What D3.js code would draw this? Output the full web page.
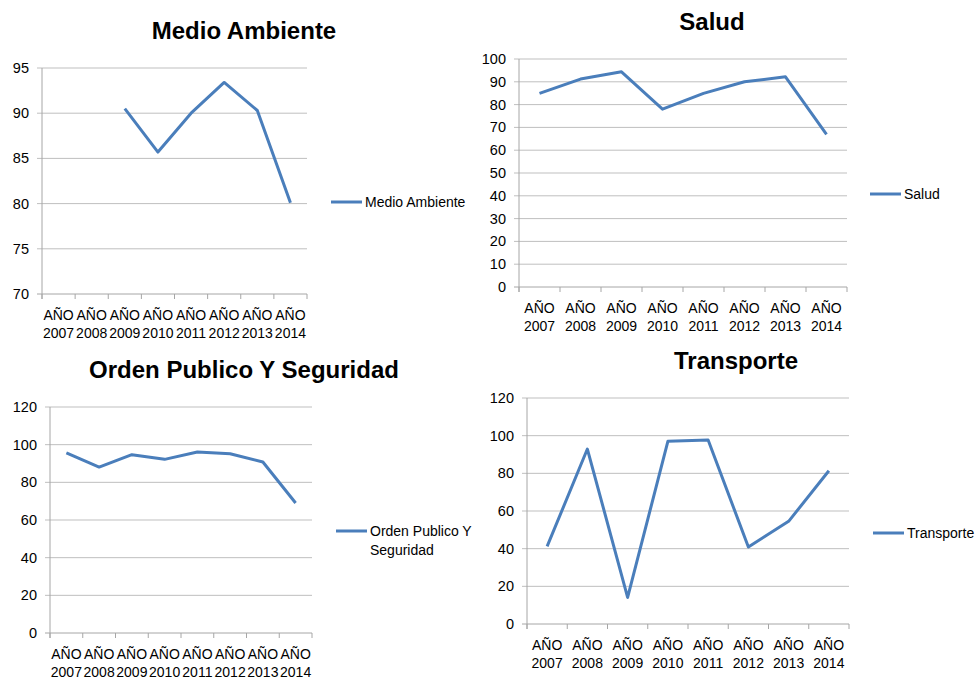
<script src="https://cdn.jsdelivr.net/npm/d3@7"></script>
<style>
  body { margin: 0; background: #fff; }
  svg text { font-family: "Liberation Sans", Arial, sans-serif; fill: #000; }
</style>
<body>
</body>
<script>
// categories and series (null = no data)
const categories = ["AÑO 2007", "AÑO 2008", "AÑO 2009", "AÑO 2010", "AÑO 2011", "AÑO 2012", "AÑO 2013", "AÑO 2014"];
const medioAmbiente = [null, null, 90.5, 85.7, 90.0, 93.4, 90.3, 80.1];
const salud = [84.9, 91.2, 94.4, 78.0, 84.9, 90.0, 92.2, 66.9];
const ordenPublico = [95.6, 88.1, 94.7, 92.2, 96.1, 95.2, 90.8, 69.0];
const transporte = [41.2, 92.9, 14.1, 97.0, 97.7, 40.9, 54.5, 81.4];
const ticksMedio = [70, 75, 80, 85, 90, 95];
const ticksSalud = [0, 10, 20, 30, 40, 50, 60, 70, 80, 90, 100];
const ticks120 = [0, 20, 40, 60, 80, 100, 120];

const W = 977, H = 681;
const lineColor = "#4a7ebb";
const gridColor = "#bfbfbf";
const axisColor = "#a6a6a6";

const svg = d3.select("body").append("svg")
  .attr("width", W).attr("height", H);

// one chart panel
function drawChart(o) {
  const g = svg.append("g");
  const x = d3.scaleBand().domain(categories).range([o.left, o.right]);
  const y = d3.scaleLinear().domain(o.domain).range([o.bottom, o.top]);

  // title
  g.append("text")
    .attr("x", o.titleX).attr("y", o.titleY)
    .attr("text-anchor", "middle")
    .style("font-size", "24px").style("font-weight", "bold")
    .text(o.title);

  // gridlines + y ticks
  g.selectAll(".grid").data(o.ticks).enter().append("line")
    .attr("x1", o.left - 5).attr("x2", o.right)
    .attr("y1", d => y(d)).attr("y2", d => y(d))
    .attr("stroke", d => d === o.domain[0] ? axisColor : gridColor)
    .attr("stroke-width", 1);
  g.selectAll(".ylab").data(o.ticks).enter().append("text")
    .attr("x", o.left - 13).attr("y", d => y(d) + 5)
    .attr("text-anchor", "end")
    .style("font-size", "14.5px")
    .text(d => d);

  // y axis line
  g.append("line")
    .attr("x1", o.left).attr("x2", o.left)
    .attr("y1", o.top).attr("y2", o.bottom + 5)
    .attr("stroke", axisColor);

  // x tick marks at category boundaries
  const bounds = categories.map(c => x(c)).concat([o.right]);
  g.selectAll(".xtick").data(bounds).enter().append("line")
    .attr("x1", d => d).attr("x2", d => d)
    .attr("y1", o.bottom).attr("y2", o.bottom + 5)
    .attr("stroke", axisColor);

  // x labels, two lines
  const lab = g.selectAll(".xlab").data(categories).enter().append("text")
    .attr("text-anchor", "middle")
    .style("font-size", "14px");
  lab.append("tspan")
    .attr("x", d => x(d) + x.bandwidth() / 2).attr("y", o.bottom + 26)
    .text(d => d.split(" ")[0]);
  lab.append("tspan")
    .attr("x", d => x(d) + x.bandwidth() / 2).attr("y", o.bottom + 44)
    .text(d => d.split(" ")[1]);

  // series line
  const line = d3.line()
    .defined(d => d[1] != null)
    .x(d => x(d[0]) + x.bandwidth() / 2)
    .y(d => y(d[1]));
  g.append("path")
    .datum(categories.map((c, i) => [c, o.values[i]]))
    .attr("d", line)
    .attr("fill", "none")
    .attr("stroke", lineColor)
    .attr("stroke-width", 3)
    .attr("stroke-linejoin", "round");

  // legend
  g.append("line")
    .attr("x1", o.legX).attr("x2", o.legX + 31)
    .attr("y1", o.legY).attr("y2", o.legY)
    .attr("stroke", lineColor).attr("stroke-width", 3);
  o.legend.forEach((t, i) => {
    g.append("text")
      .attr("x", o.legX + 34).attr("y", o.legY + 5 + i * 19)
      .style("font-size", "14px")
      .text(t);
  });
}

drawChart({
  title: "Medio Ambiente", titleX: 244, titleY: 39,
  values: medioAmbiente, domain: [70, 95], ticks: ticksMedio,
  left: 42, right: 307, top: 68, bottom: 294,
  legX: 331, legY: 202, legend: ["Medio Ambiente"]
});
drawChart({
  title: "Salud", titleX: 712, titleY: 30,
  values: salud, domain: [0, 100], ticks: ticksSalud,
  left: 519, right: 847, top: 59, bottom: 287,
  legX: 870, legY: 194, legend: ["Salud"]
});
drawChart({
  title: "Orden Publico Y Seguridad", titleX: 244, titleY: 378,
  values: ordenPublico, domain: [0, 120], ticks: ticks120,
  left: 50, right: 312, top: 407, bottom: 633,
  legX: 336, legY: 531, legend: ["Orden Publico Y", "Seguridad"]
});
drawChart({
  title: "Transporte", titleX: 736, titleY: 369,
  values: transporte, domain: [0, 120], ticks: ticks120,
  left: 527, right: 849, top: 398, bottom: 624,
  legX: 873, legY: 533, legend: ["Transporte"]
});
</script>
